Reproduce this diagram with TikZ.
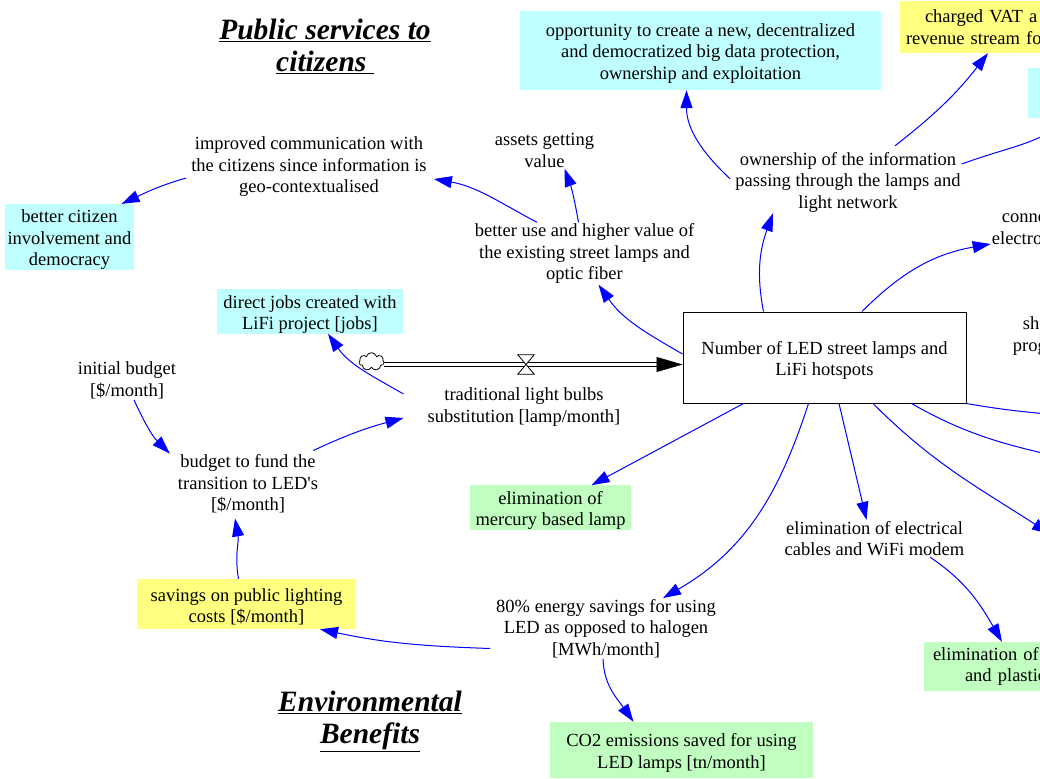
\documentclass[tikz,border=0pt]{standalone}
\usepackage{fontspec}
\setmainfont{Liberation Serif}
\usetikzlibrary{arrows.meta,shapes.symbols}

\definecolor{cyanfill}{RGB}{192,255,255}
\definecolor{yellowfill}{RGB}{255,255,128}
\definecolor{greenfill}{RGB}{192,255,192}
\definecolor{linkblue}{RGB}{0,0,255}

% tall invisible strut that lowers the text block inside a box
\newcommand\toppad{\rule{0pt}{18.8pt}}

\tikzset{
  every node/.style={font=\fontsize{18.5}{21.5}\selectfont},
  txt/.style={align=center, inner sep=1pt},
  cbox/.style={fill=cyanfill, align=center, inner sep=0pt},
  ybox/.style={fill=yellowfill, align=center, inner sep=0pt},
  gbox/.style={fill=greenfill, align=center, inner sep=0pt},
  stockbox/.style={draw=black, line width=1pt, fill=white, align=center},
  heading/.style={font=\fontsize{29.5}{32}\selectfont\bfseries\itshape, align=center, inner sep=0pt},
  link/.style={draw=linkblue, line width=1pt, -{Triangle[length=18pt,width=12pt]}},
  pipe/.style={draw=black, line width=0.9pt, double=white, double distance=3.4pt},
  flowhead/.style={draw=black, line width=0.5pt, -{Triangle[length=26pt,width=15pt]}},
  cloudsym/.style={cloud, cloud puffs=7, cloud ignores aspect, draw=black, line width=0.8pt, fill=white, inner sep=0pt},
  valvebox/.style={minimum width=16pt, minimum height=19pt, inner sep=0pt},
  valveline/.style={draw=black, line width=0.8pt, fill=white}
}

\begin{document}
\begin{tikzpicture}[x=1pt,y=-1pt]
\useasboundingbox (0,0) rectangle (1040,778);
\clip (0,0) rectangle (1040,778);

% section headings
\node[heading] (pub) at (325,46.5) {\underline{Public services to}\\\underline{citizens\ }};
\node[heading] (env) at (370,721) {\underline{Environmental}\\\underline{Benefits}};

% coloured boxes
\node[cbox, minimum width=361pt, minimum height=79pt] (opp) at (700.5,50.5)
  {\toppad opportunity to create a new, decentralized\\and democratized big data protection,\\ownership and exploitation};
\node[ybox, minimum width=200pt, minimum height=52pt, text width=188pt, inner xsep=6pt, align=left] (vat) at (1000,27)
  {\hspace*{19pt}charged VAT a\\revenue stream fo};
\node[cbox, minimum width=72pt, minimum height=50pt] (rc) at (1064,93) {};
\node[cbox, minimum width=129pt, minimum height=64pt] (citizen) at (69.5,237)
  {\toppad better citizen\\involvement and\\democracy};
\node[cbox, minimum width=186pt, minimum height=43pt] (jobs) at (310,311.5)
  {\toppad direct jobs created with\\LiFi project [jobs]};
\node[gbox, minimum width=161pt, minimum height=43pt] (mercury) at (550.5,507.5)
  {\toppad elimination of\\mercury based lamp};
\node[ybox, minimum width=219pt, minimum height=50pt] (savings) at (246.5,604)
  {\toppad savings on public lighting\\costs [\$/month]};
\node[gbox, minimum width=176pt, minimum height=49pt, text width=158pt, inner xsep=9pt, align=left] (plastic) at (1012,666.5)
  {elimination of r\\\hspace*{32pt}and plastic};
\node[gbox, minimum width=263pt, minimum height=56pt] (co2) at (681.5,750)
  {\toppad CO2 emissions saved for using\\LED lamps [tn/month]};

% stock
\node[stockbox, minimum width=283pt, minimum height=91pt] (stock) at (824.5,357.5)
  {\toppad Number of LED street lamps and\\LiFi hotspots};

% plain variables
\node[txt] (own) at (848,182) {ownership of the information\\passing through the lamps and\\light network};
\node[txt] (assets) at (544.5,150.5) {assets getting\\value};
\node[txt] (improved) at (309,167) {improved communication with\\the citizens since information is\\geo-contextualised};
\node[txt] (betteruse) at (584.5,253.5) {better use and higher value of\\the existing street lamps and\\optic fiber};
\node[txt, align=left, anchor=west] (conn) at (990.7,229) {\hspace*{10pt}conne\\electro};
\node[txt, align=left, anchor=west] (sh) at (1011.7,336) {\hspace*{10pt}sh\\prog};
\node[txt] (init) at (127,380.5) {initial budget\\{[}\$/month]};
\node[txt] (trad) at (524,407) {traditional light bulbs\\substitution [lamp/month]};
\node[txt] (budget) at (248,484) {budget to fund the\\transition to LED\textquotesingle s\\{[}\$/month]};
\node[txt] (elec) at (874.5,538.5) {elimination of electrical\\cables and WiFi modem};
\node[txt] (energy) at (606,628.5) {80\% energy savings for using\\LED as opposed to halogen\\{[}MWh/month]};

% flow: cloud, pipe, valve
\node[cloudsym, minimum width=25pt, minimum height=18pt] (cloud) at (371.5,361.7) {};
\node[valvebox] (valve) at (526,364.5) {};
\coordinate (inlet) at (stock.west |- valve);
\draw[pipe] (cloud.east |- valve) -- ([xshift=-25pt]inlet);
\draw[flowhead] ([xshift=-26pt]inlet) -- (inlet);
\draw[valveline] (valve.north west) -- (valve.north east) -- (valve.south west) -- (valve.south east) -- cycle;

% ends of links that leave the frame
\coordinate (offa) at (1050,534);
\coordinate (offb) at (1120,472);
\coordinate (offc) at (1110,419);

% causal links
\draw[link] ([xshift=-61pt]stock.north) to[out=101,in=-110] ([xshift=-75pt]own.south);
\draw[link] ([xshift=37.5pt]stock.north) to[out=45,in=190] ([yshift=-15pt]conn.west);
\draw[link] ([xshift=-4pt,yshift=3pt]own.west) to[out=137,in=-90] ([xshift=-14pt]opp.south);
\draw[link] ([xshift=47pt,yshift=5pt]own.north) to[out=38,in=-128] ([xshift=-12pt]vat.south);
\draw[link] ([yshift=18pt]own.east) to[out=20,in=-145] ([xshift=6pt]rc.south);
\draw[link] ([xshift=-6pt]betteruse.north) to[out=100,in=-70] ([xshift=20pt]assets.south);
\draw[link] ([xshift=-47.5pt]betteruse.north) to[out=152,in=-10] ([xshift=6pt,yshift=-12pt]improved.east);
\draw[link] ([xshift=-4pt,yshift=-11pt]improved.west) to[out=196,in=25] ([xshift=52pt]citizen.north);
\draw[link] ([yshift=3.5pt]stock.west) to[out=150,in=-55] ([xshift=14pt]betteruse.south);
\draw[link] ([xshift=-23pt,yshift=13pt]trad.west) to[out=150,in=-55] ([xshift=18pt]jobs.south);
\draw[link] ([xshift=7pt]init.south) to[out=-65,in=135] ([xshift=-7pt]budget.north west);
\draw[link] ([xshift=-6pt,yshift=3pt]budget.north east) to[out=25,in=195] ([xshift=-23pt,yshift=-11pt]trad.west);
\draw[link] ([xshift=-8pt]savings.north) to[out=100,in=-80] ([xshift=-13pt,yshift=-4pt]budget.south);
\draw[link] ([xshift=-5pt,yshift=-20pt]energy.west) to[out=178,in=-12] ([xshift=73.5pt]savings.south);
\draw[link] ([xshift=-3pt]energy.south) to[out=-88,in=125] ([xshift=-48pt]co2.north);
\draw[link] ([xshift=-81pt]stock.south) -- ([xshift=41pt]mercury.north);
\draw[link] ([xshift=-16pt]stock.south) to[out=-108,in=30] ([xshift=57pt]energy.north);
\draw[link] ([xshift=14.5pt]stock.south) -- ([xshift=-8pt]elec.north);
\draw[link] ([xshift=55.5pt]elec.south) to[out=-34,in=120] ([xshift=-10pt]plastic.north);
\draw[link] ([xshift=48.5pt]stock.south) to[out=-45,in=147] (offa);
\draw[link] ([xshift=87pt]stock.south) to[out=-30,in=165] (offb);
\draw[link] (stock.south east) to[out=-10,in=175] (offc);
\end{tikzpicture}
\end{document}
